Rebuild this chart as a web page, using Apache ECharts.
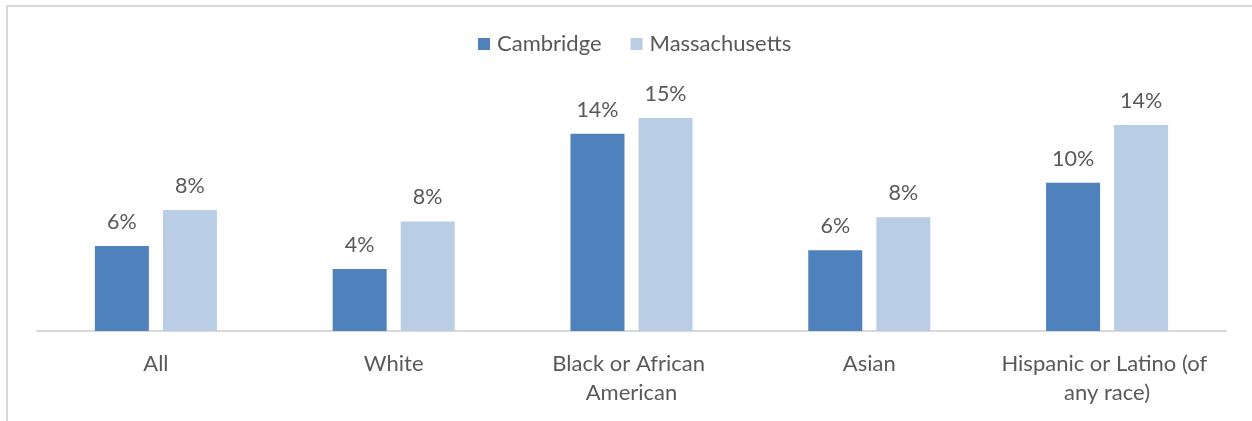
<!DOCTYPE html>
<html>
<head>
<meta charset="utf-8">
<script src="https://cdn.jsdelivr.net/npm/echarts@6/dist/echarts.min.js"></script>
<style>
  html, body { margin: 0; padding: 0; background: #ffffff; }
  #chart { width: 1252px; height: 421px; }
</style>
</head>
<body>
<div id="chart"></div>
<script>
// Unemployment rate by race / ethnicity, Cambridge vs. Massachusetts (percent)
const categories = ['All', 'White', 'Black or African American', 'Asian', 'Hispanic or Latino (of any race)'];
const seriesNames = ['Cambridge', 'Massachusetts'];
const cambridge = [5.9, 4.3, 13.7, 5.6, 10.3];
const massachusetts = [8.4, 7.6, 14.8, 7.9, 14.3];

const textColor = '#595959';
const fontFamily = 'Lato, "Open Sans", sans-serif';

const chart = echarts.init(document.getElementById('chart'), null, { renderer: 'canvas' });

const valueLabel = {
  show: true,
  position: 'top',
  distance: 13,
  color: textColor,
  fontFamily: fontFamily,
  fontSize: 21.5,
  formatter: p => Math.round(p.value) + '%'
};

chart.setOption({
  backgroundColor: '#ffffff',
  animation: false,
  graphic: [{
    type: 'rect',
    shape: { x: 7, y: 6, width: 1400, height: 600 },
    style: { fill: 'none', stroke: '#d9d9d9', lineWidth: 2 },
    silent: true
  }],
  legend: {
    data: seriesNames,
    top: 33,
    left: 478,
    itemWidth: 12,
    itemHeight: 12,
    itemGap: 29,
    icon: 'rect',
    padding: 0,
    textStyle: { color: textColor, fontFamily: fontFamily, fontSize: 22, padding: [0, 0, 0, 2] }
  },
  grid: { left: 37, right: 26, top: 100.6, bottom: 90, containLabel: false },
  xAxis: {
    type: 'category',
    data: categories,
    axisLine: { show: true, lineStyle: { color: '#d9d9d9', width: 2 } },
    axisTick: { show: false },
    axisLabel: {
      color: textColor,
      fontFamily: fontFamily,
      fontSize: 22,
      margin: 18,
      lineHeight: 29,
      width: 230,
      overflow: 'break',
      interval: 0
    }
  },
  yAxis: {
    type: 'value',
    min: 0,
    max: 16,
    show: false,
    splitLine: { show: false }
  },
  series: [
    {
      name: seriesNames[0],
      type: 'bar',
      data: cambridge,
      barWidth: 54,
      barGap: '26%',
      itemStyle: { color: '#4f81bd' },
      label: valueLabel
    },
    {
      name: seriesNames[1],
      type: 'bar',
      data: massachusetts,
      barWidth: 54,
      barGap: '26%',
      itemStyle: { color: '#b9cde5' },
      label: valueLabel
    }
  ]
});
</script>
</body>
</html>
